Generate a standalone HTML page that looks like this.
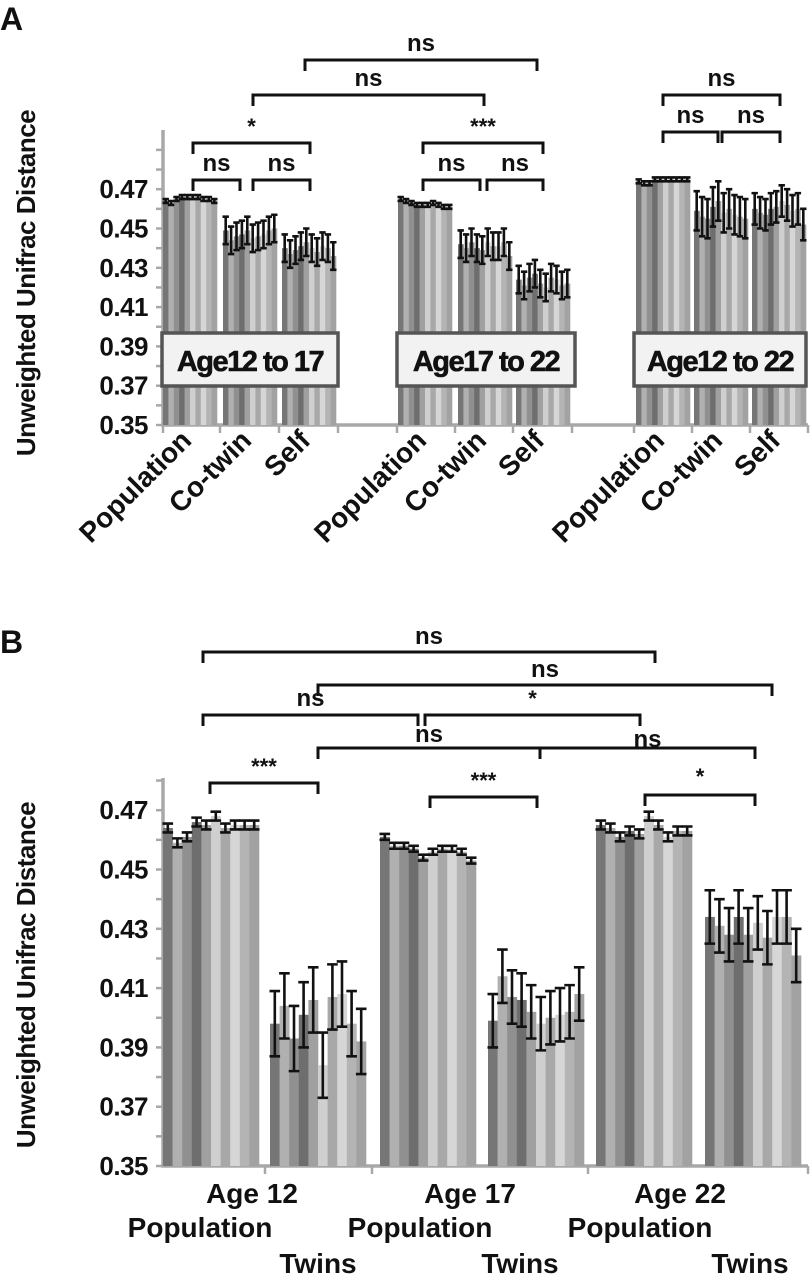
<!DOCTYPE html>
<html><head><meta charset="utf-8"><style>
body{margin:0;background:#fff;width:812px;height:1280px;overflow:hidden}
svg{display:block}
text{font-family:"Liberation Sans",Arial,sans-serif;fill:#111;font-weight:bold}
</style></head><body>
<svg id="chart" width="812" height="1280" viewBox="0 0 812 1280" xmlns="http://www.w3.org/2000/svg"></svg>
<script>
// ---- Panel A data ----
const aGroups = ["Age12 to 17","Age17 to 22","Age12 to 22"];
const aCats = ["Population","Co-twin","Self"];
const aValues = [
 [[0.464,0.463,0.465,0.466,0.466,0.466,0.466,0.465,0.465,0.464],
  [0.449,0.444,0.446,0.447,0.449,0.445,0.446,0.447,0.449,0.450],
  [0.440,0.437,0.439,0.441,0.443,0.440,0.438,0.441,0.440,0.436]],
 [[0.465,0.464,0.463,0.462,0.462,0.462,0.463,0.462,0.461,0.461],
  [0.442,0.440,0.443,0.440,0.439,0.443,0.441,0.441,0.443,0.436],
  [0.424,0.421,0.425,0.427,0.422,0.420,0.425,0.424,0.421,0.422]],
 [[0.474,0.473,0.473,0.475,0.475,0.475,0.475,0.475,0.475,0.475],
  [0.459,0.456,0.455,0.461,0.464,0.458,0.460,0.457,0.456,0.455],
  [0.460,0.458,0.457,0.460,0.461,0.464,0.462,0.459,0.460,0.452]]
];
const aErrors = [[0.001,0.007,0.007],[0.001,0.007,0.007],[0.001,0.010,0.008]];
const aTicks = [0.47,0.45,0.43,0.41,0.39,0.37,0.35];
// ---- Panel B data ----
const bAges = ["Age 12","Age 17","Age 22"];
const bCats = ["Population","Twins"];
const bValues = [
 [[0.464,0.459,0.461,0.466,0.465,0.468,0.464,0.465,0.465,0.465],
  [0.398,0.404,0.393,0.401,0.406,0.384,0.407,0.408,0.398,0.392]],
 [[0.461,0.458,0.458,0.457,0.454,0.456,0.457,0.457,0.456,0.453],
  [0.399,0.414,0.407,0.406,0.402,0.398,0.400,0.401,0.402,0.408]],
 [[0.465,0.464,0.461,0.463,0.462,0.468,0.465,0.461,0.463,0.463],
  [0.434,0.431,0.428,0.434,0.428,0.432,0.427,0.434,0.434,0.421]]
];
const bErrors = [[0.0015,0.011],[0.001,0.009],[0.0015,0.009]];
const bTicks = [0.47,0.45,0.43,0.41,0.39,0.37,0.35];

const colors=["#767676","#b0b0b0","#909090","#6e6e6e","#a0a0a0","#cfcfcf","#a8a8a8","#d6d6d6","#b4b4b4","#a2a2a2"];
const svg=document.getElementById('chart');
const NS="http://www.w3.org/2000/svg";
function mk(tag,attrs,parent){const e=document.createElementNS(NS,tag);for(const k in attrs)e.setAttribute(k,attrs[k]);(parent||svg).appendChild(e);return e;}
function txt(s,x,y,size,anchor,extra){const t=mk('text',Object.assign({x:x,y:y,'font-size':size,'text-anchor':anchor||'middle'},extra||{}));t.textContent=s;return t;}

// Axis functions
const yA=v=>425-(v-0.35)/0.02*39.3;
const yB=v=>1166-(v-0.35)/0.02*59.3;
const aGroupX=[[163,223,282],[398,458,516],[636,694,752]];
const aBarW=5.4;
const bClusterX=[[163,270],[380,488],[596,705]];
const bBarW=9.6;

let t=txt('A',0,30,32,'start');

t=txt('B',0,653,32,'start');


function drawBars(values,errs,x0,bw,ys,prefix){
  const g=mk('g',{});
  
  
  values.forEach((v,i)=>{
    const x=x0+i*bw, y=ys(v);
    const r=mk('rect',{x:x,y:y,width:bw+0.3,height:ys(0.35)-y,fill:colors[i%colors.length]},g);
    
    
  });
  values.forEach((v,i)=>{
    const cx=x0+i*bw+bw/2, y1=ys(v+errs), y2=ys(v-errs), c=bw/2+0.5;
    const p=mk('path',{d:`M${cx},${y1}V${y2}M${cx-c},${y1}H${cx+c}M${cx-c},${y2}H${cx+c}`,stroke:'#111','stroke-width':2.6,fill:'none'},g);
    
    
  });
}
function axis(ys,ticks,top,bottomRight,prefix,sepXs){
  const x=154;
  const a=mk('path',{d:`M${x+9},${top}V${ys(0.35)}H${bottomRight}`,stroke:'#a8a8a8','stroke-width':3.5,fill:'none'});
  
  
  for(let v=0.35;v<=0.5;v+=0.01){const yy=ys(v);if(yy<top)break;mk('line',{x1:x+2,x2:x+9,y1:yy,y2:yy,stroke:'#a8a8a8','stroke-width':2.5});}
  ticks.forEach(v=>{const l=txt(v.toFixed(2),148,ys(v)+9,26,'end',{'letter-spacing':'-0.5'});
    });
  sepXs.forEach(sx=>mk('line',{x1:sx,x2:sx,y1:ys(0.35),y2:ys(0.35)+8,stroke:'#a8a8a8','stroke-width':2.5}));
}
function bracket(x1,x2,y,label,ly,prefix){
  const p=mk('path',{d:`M${x1},${y+11}V${y}H${x2}V${y+11}`,stroke:'#111','stroke-width':3,fill:'none'});
  
  
  const l=txt(label,(x1+x2)/2,ly,label==='ns'?24:22,'middle');
  
  
}

// ===== Panel A =====
axis(yA,aTicks,130,808,'panel-a',[163,220,279,338,397,455,513,572,634,692,750,808]);
aValues.forEach((grp,gi)=>grp.forEach((vals,ci)=>drawBars(vals,aErrors[gi][ci],aGroupX[gi][ci],aBarW,yA,'panel-a')));
const aBoxX=[[162,338],[397,575],[634,806]];
aGroups.forEach((g,i)=>{
  const r=mk('rect',{x:aBoxX[i][0],y:333,width:aBoxX[i][1]-aBoxX[i][0],height:53,fill:'#f2f2f2',stroke:'#555','stroke-width':3.5});
  
  const l=txt(g,(aBoxX[i][0]+aBoxX[i][1])/2,371,29,'middle',{'letter-spacing':'-1.5','font-weight':'normal','stroke':'#111','stroke-width':'0.6'});
  
});
aGroupX.forEach(gr=>gr.forEach((x,ci)=>{
  const cx=x+30, cy=442;
  const l=txt(aCats[ci],cx,cy,28,'end',{transform:`rotate(-45 ${cx} ${cy})`});
  
}));
let yl=txt('Unweighted Unifrac Distance',0,0,26,'middle',{transform:'translate(35 283) rotate(-90)','letter-spacing':'-0.5'});

bracket(305,537,60,'ns',51,'panel-a');
bracket(253,484,95,'ns',86,'panel-a');
bracket(193,310,143,'*',134,'panel-a');
bracket(193,240,180,'ns',171,'panel-a');
bracket(253,310,180,'ns',171,'panel-a');
bracket(423,543,143,'***',134,'panel-a');
bracket(423,480,180,'ns',171,'panel-a');
bracket(487,543,180,'ns',171,'panel-a');
bracket(663,780,95,'ns',86,'panel-a');
bracket(663,718,132,'ns',123,'panel-a');
bracket(722,780,132,'ns',123,'panel-a');

// ===== Panel B =====
axis(yB,bTicks,778,808,'panel-b',[265,372,588,808]);
bValues.forEach((age,ai)=>age.forEach((vals,ci)=>drawBars(vals,bErrors[ai][ci],bClusterX[ai][ci],bBarW,yB,'panel-b')));
const bAgeX=[252,470,680], bPopX=[200,420,640], bTwX=[318,520,750];
bAges.forEach((a,i)=>{
  let l=txt(a,bAgeX[i],1203,28,'middle');
  l=txt(bCats[0],bPopX[i],1237,28,'middle');
  l=txt(bCats[1],bTwX[i],1273,28,'middle');
});
yl=txt('Unweighted Unifrac Distance',0,0,26,'middle',{transform:'translate(35 975) rotate(-90)','letter-spacing':'-0.5'});

bracket(203,655,652,'ns',644,'panel-b');
bracket(318,772,685,'ns',677,'panel-b');
bracket(203,418,715,'ns',706,'panel-b');
bracket(425,640,715,'*',706,'panel-b');
bracket(318,540,748,'ns',742,'panel-b');
bracket(540,755,748,'ns',747,'panel-b');
bracket(210,318,783,'***',774,'panel-b');
bracket(430,537,797,'***',788,'panel-b');
bracket(645,755,795,'*',784,'panel-b');
</script>
</body></html>
